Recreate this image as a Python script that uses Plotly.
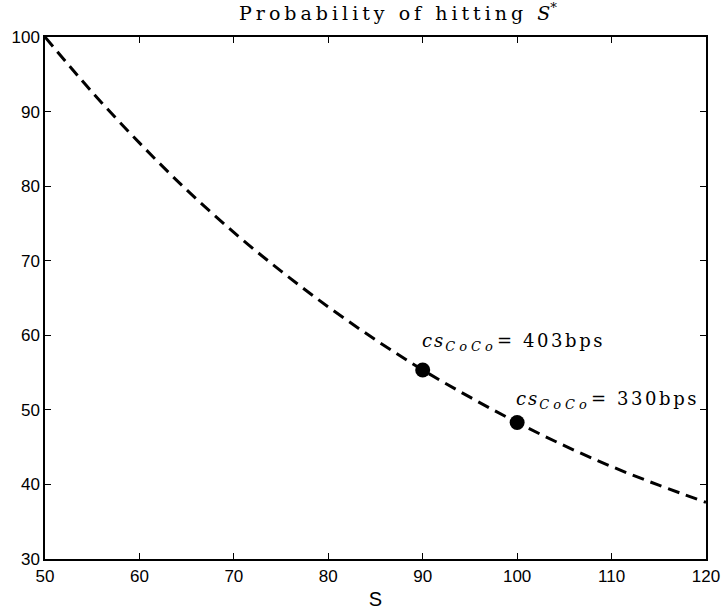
import plotly.graph_objects as go

# Curve
s_values = [50, 55, 60, 65, 70, 75, 80, 85, 90, 95, 100, 105, 110, 115, 120]
prob_values = [100, 92.6, 85.8, 79.5, 73.8, 68.6, 63.8, 59.4, 55.35, 51.7, 48.3, 45.2, 42.4, 39.9, 37.6]

# Highlighted points
point_s = [90, 100]
point_prob = [55.35, 48.3]
point_labels = ["403bps", "330bps"]
label_prob = [59.1, 51.3]

x_ticks = [50, 60, 70, 80, 90, 100, 110, 120]
y_ticks = [30, 40, 50, 60, 70, 80, 90, 100]

fig = go.Figure()
fig.add_trace(go.Scatter(
    x=s_values, y=prob_values, mode="lines",
    line=dict(color="black", width=3, dash="12px,7px", shape="spline"),
    showlegend=False, hoverinfo="skip"))
fig.add_trace(go.Scatter(
    x=point_s, y=point_prob, mode="markers",
    marker=dict(color="black", size=15),
    showlegend=False))

for xs, yl, lab in zip(point_s, label_prob, point_labels):
    fig.add_annotation(
        x=xs, y=yl, xref="x", yref="y", xanchor="left", yanchor="middle",
        showarrow=False, xshift=-3,
        text=(f"<span style='letter-spacing:2px'><i>cs</i></span>"
              f"<sub><span style='font-size:13px;letter-spacing:4px'><i>CoCo</i></span></sub>"
              f"<span style='letter-spacing:2.6px'>= {lab}</span>"),
        font=dict(family="DejaVu Serif", size=18, color="black"))

axis_common = dict(
    showgrid=False, zeroline=False, showline=True, linecolor="black", linewidth=1.5,
    mirror="ticks", ticks="inside", ticklen=6, tickcolor="black", tickwidth=1,
    automargin=False,
    tickfont=dict(family="Liberation Sans", size=17, color="black"))

fig.update_xaxes(range=[50, 120], tickvals=x_ticks, ticktext=[str(v) for v in x_ticks],
                 title=dict(text="S", font=dict(family="Liberation Sans", size=20, color="black"), standoff=7),
                 ticklabelstandoff=1, **axis_common)
fig.update_yaxes(range=[30, 100], tickvals=y_ticks, ticktext=[str(v) for v in y_ticks],
                 ticklabelstandoff=0, **axis_common)

fig.update_layout(
    width=723, height=616,
    margin=dict(l=45, r=17, t=37, b=57),
    paper_bgcolor="white", plot_bgcolor="white",
    title=dict(text="<span style='letter-spacing:4px'>Probability of hitting </span><i>S</i><sup>*</sup>",
               x=398 / 723, xanchor="center", xref="container",
               y=1 - 13 / 616, yanchor="middle", automargin=False,
               font=dict(family="DejaVu Serif", size=19, color="black")),
)

fig.write_html("out.html", config={"displayModeBar": False},
               post_script="document.body.style.margin='0';")
